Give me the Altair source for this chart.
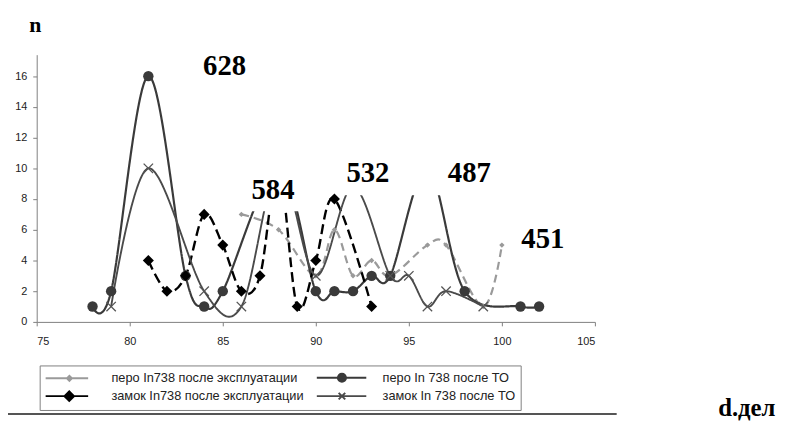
import altair as alt
import pandas as pd

# ---- data ----
series_names = [
    "перо In738 после эксплуатации",
    "перо In 738 после ТО",
    "замок In738 после эксплуатации",
    "замок In 738 после ТО",
]
pero_expl_x = [86, 88, 90, 91, 92, 93, 94, 96, 97, 99, 100]
pero_expl_y = [7, 6, 3, 6, 3, 4, 3, 5, 5, 1, 5]
pero_to_x = [78, 79, 81, 83, 84, 85, 88, 90, 91, 92, 93, 94, 96, 98, 101, 102]
pero_to_y = [1, 2, 16, 3, 1, 2, 10, 2, 2, 2, 3, 3, 10, 2, 1, 1]
zamok_expl_x = [81, 82, 83, 84, 85, 86, 87, 88, 89, 90, 91, 93]
zamok_expl_y = [4, 2, 3, 7, 5, 2, 3, 10, 1, 4, 8, 1]
zamok_to_x = [79, 81, 84, 86, 88, 90, 92, 94, 95, 96, 97, 99]
zamok_to_y = [1, 10, 2, 1, 10, 3, 8.8, 3, 3, 1, 2, 1]

x_ticks = [75, 80, 85, 90, 95, 100, 105]
y_ticks = [0, 2, 4, 6, 8, 10, 12, 14, 16]

label_texts = ["628", "584", "532", "487", "451"]
label_x = [85.1, 87.7, 92.8, 98.25, 102.2]
label_y = [16.67, 8.57, 9.66, 9.66, 5.42]

# white text frames that hide the tops of the curves
mask_x1 = [86.4, 91.25, 95.0]
mask_x2 = [89.2, 94.0, 99.6]
mask_y1 = [7.2, 8.25, 8.25]
mask_y2 = [17.4, 17.4, 17.4]

# ---- build tables ----
xs = [pero_expl_x, pero_to_x, zamok_expl_x, zamok_to_x]
ys = [pero_expl_y, pero_to_y, zamok_expl_y, zamok_to_y]
rows = []
for name, sx, sy in zip(series_names, xs, ys):
    for a, b in zip(sx, sy):
        rows.append({"series": name, "d": a, "n": b})
df = pd.DataFrame(rows)
labels_df = pd.DataFrame({"t": label_texts, "lx": label_x, "ly": label_y})
masks_df = pd.DataFrame({"x1": mask_x1, "x2": mask_x2, "y1": mask_y1, "y2": mask_y2})
legend_df = pd.DataFrame({"series": series_names})

colors = ["#9a9a9a", "#3a3a3a", "#000000", "#4a4a4a"]
dashes = [[8, 5], [1, 0], [10, 5], [1, 0]]
widths = [2.2, 2.2, 2.4, 1.9]

x_scale = alt.Scale(domain=[75, 105], nice=False, zero=False)
y_scale = alt.Scale(domain=[0, 17.4], nice=False, zero=True)

x_axis = alt.Axis(
    values=x_ticks, title="d.дел", titleX=688, titleY=95, titleAlign="left",
    titleBaseline="alphabetic", titleFont="Liberation Serif", titleFontWeight="bold",
    titleFontSize=25, titleColor="#000", labelPadding=10, tickSize=4)
y_axis = alt.Axis(
    values=y_ticks, title="n", titleAngle=0, titleX=-2, titleY=-30,
    titleAlign="center", titleBaseline="middle", titleFont="Liberation Serif",
    titleFontWeight="bold", titleFontSize=22, titleColor="#000", labelPadding=6,
    tickSize=4)
X = alt.X("d:Q", scale=x_scale, axis=x_axis)
Y = alt.Y("n:Q", scale=y_scale, axis=y_axis)

layers = []
marker_defs = [
    dict(shape="diamond", size=30, filled=True, color=colors[0]),
    dict(shape="circle", size=110, filled=True, color=colors[1]),
    dict(shape="diamond", size=125, filled=True, color=colors[2]),
    dict(shape="M-1,-1L1,1M-1,1L1,-1", size=90, filled=False, color="#555555", strokeWidth=1.3),
]
for i, name in enumerate(series_names):
    base = alt.Chart(df).transform_filter(alt.datum.series == name)
    layers.append(base.mark_line(interpolate="cardinal", color=colors[i],
                                 strokeDash=dashes[i], strokeWidth=widths[i]).encode(x=X, y=Y))
for i, name in enumerate(series_names):
    base = alt.Chart(df).transform_filter(alt.datum.series == name)
    layers.append(base.mark_point(opacity=1, **marker_defs[i]).encode(x=X, y=Y))

masks = alt.Chart(masks_df).mark_rect(color="white").encode(
    x=alt.X("x1:Q", scale=x_scale, axis=x_axis), x2="x2:Q",
    y=alt.Y("y1:Q", scale=y_scale, axis=y_axis), y2="y2:Q")
texts = alt.Chart(labels_df).mark_text(font="Liberation Serif", fontWeight="bold",
                                       fontSize=29, color="black", baseline="middle").encode(
    x=alt.X("lx:Q", scale=x_scale, axis=x_axis),
    y=alt.Y("ly:Q", scale=y_scale, axis=y_axis), text="t:N")

# legend: entries are laid out column by column
leg_order = [0, 2, 1, 3]
leg_domain = [series_names[i] for i in leg_order]
leg_colors = [colors[i] for i in leg_order]
legend_paths_all = [
    "M-3.58,0L3.58,0M0.0,0L0.42,-0.42L0.84,0L0.42,0.42Z",
    "M-3.58,0L4.75,0M-0.03,0A0.68,0.68,0,1,1,1.33,0A0.68,0.68,0,1,1,-0.03,0Z",
    "M-3.58,0L3.58,0M-0.4,0L0.4,-0.8L1.2,0L0.4,0.8Z",
    "M-3.58,0L4.75,0M0.1,-0.55L1.2,0.55M0.1,0.55L1.2,-0.55",
]
leg_paths = [legend_paths_all[i] for i in leg_order]
leg = alt.Legend(
    title=None, orient="none", legendX=3, legendY=314, columns=2,
    symbolSize=144, symbolStrokeWidth=2, symbolOffset=15.5, labelFont="Liberation Sans",
    labelFontSize=12.9, labelColor="#222", labelOffset=38, labelLimit=400,
    columnPadding=9, rowPadding=1, padding=5, strokeColor="#808080",
    fillColor="white", symbolOpacity=1)
legend_layer = alt.Chart(legend_df).transform_filter("false").mark_point(filled=True).encode(
    shape=alt.Shape("series:N", scale=alt.Scale(domain=leg_domain, range=leg_paths), legend=leg),
    fill=alt.Fill("series:N", scale=alt.Scale(domain=leg_domain, range=leg_colors), legend=leg),
    stroke=alt.Stroke("series:N", scale=alt.Scale(domain=leg_domain, range=leg_colors), legend=leg),
)

sep = alt.Chart(pd.DataFrame({"a": [0]})).mark_rule(color="#555555", strokeWidth=2).encode(
    x=alt.value(-29), x2=alt.value(586), y=alt.value(363))

chart = alt.layer(*layers, masks, texts, legend_layer, sep).properties(
    width=564, height=270,
    autosize=alt.AutoSizeParams(type="none"),
    padding={"left": 29, "top": 45, "right": 186, "bottom": 100},
).configure_axis(
    labelFont="Liberation Sans", labelFontSize=11, labelColor="#222",
    domainColor="#808080", tickColor="#808080", grid=False,
).configure_view(stroke="transparent")

chart.save("out.html", embed_options={"renderer": "svg", "actions": False})
